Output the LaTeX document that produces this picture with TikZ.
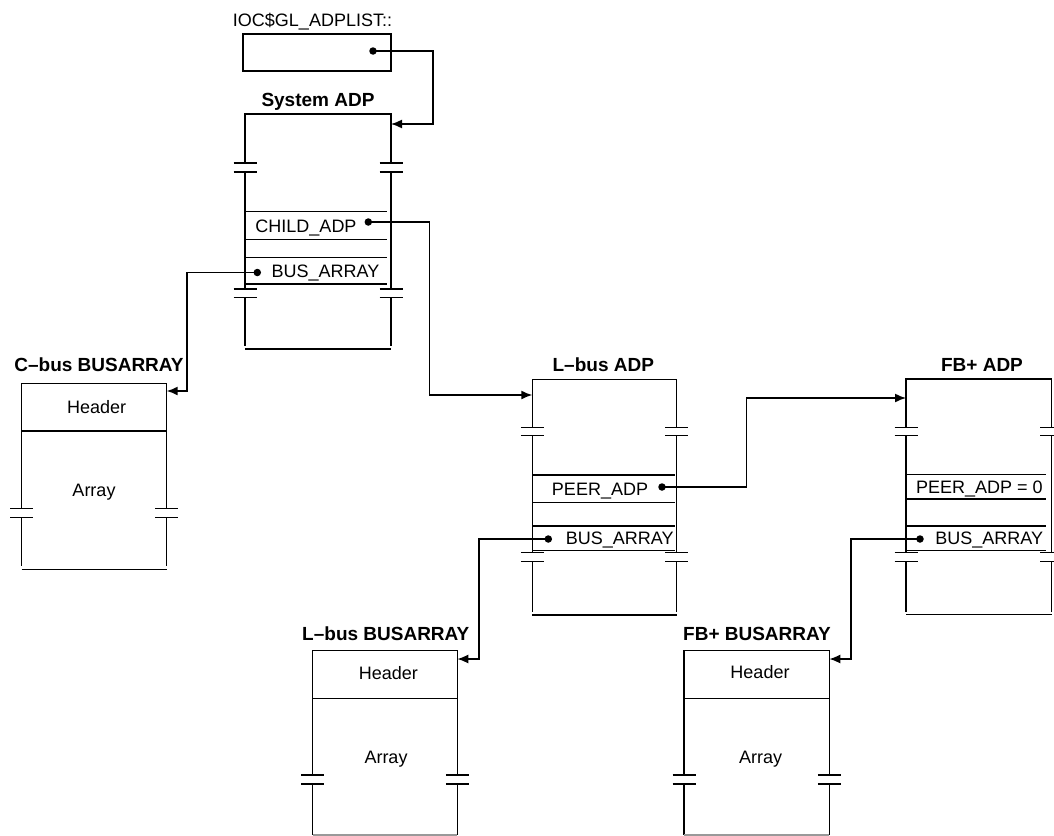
\documentclass[tikz,border=0pt]{standalone}
\usepackage{fontspec}
\setmainfont{Liberation Sans}
\usetikzlibrary{arrows.meta}

\begin{document}
\begin{tikzpicture}%
        [x=1pt, y=-1pt,
        edge/.style={color=black, line width=1.5pt},
        ptr/.style={color=black, line width=1.5pt, -{Latex[length=11pt,width=9pt]}},
        dot/.style={circle, fill=black, inner sep=0pt, minimum size=7.5pt},
        txt/.style={font=\fontsize{18}{21}\selectfont, inner sep=0pt, anchor=base},
        boxtitle/.style={font=\fontsize{19}{22}\selectfont\bfseries, inner sep=0pt, anchor=base}]

    \useasboundingbox (0,0) rectangle (1054,835);

    %% List head
    \node[txt] (ioc title) at (312.5,26) {IOC\$GL\_ADPLIST::};
    \draw[edge] (243,34) rectangle (391,71);
    \node[dot] (ioc ptr) at (373,51) {};
    \coordinate (sys in) at (391,124);
    %%
    %% System ADP
    %%
    \node[boxtitle] (sys title) at (318,106.6) {System ADP};
    \draw[edge] (245,163) -- (245,114) -- (391,114) -- (391,163);
    \draw[edge] (245,172) -- (245,289) (391,172) -- (391,289);
    \draw[edge] (245,297.5) -- (245,346) (391,297.5) -- (391,346);
    \draw[edge] (245,349) -- (391,349);
    \foreach \x in {245,391} \foreach \y in {163,172,289,297.5}
        \draw[edge] (\x-11.5,\y) -- (\x+11.5,\y);
    \foreach \y in {211.5,239.5,257.5,284}
        \draw[edge] (245,\y) -- (387,\y);
    \node[txt] (sys child txt) at (306,232.3) {CHILD\_ADP};
    \node[dot] (sys child) at (368.3,222) {};
    \node[txt] (sys bus txt) at (325.5,277.3) {BUS\_ARRAY};
    \node[dot] (sys bus) at (257.3,272.5) {};
    %%
    %% C-bus BUSARRAY
    %%
    \node[boxtitle] (cbus title) at (99,371.6) {C\textendash bus BUSARRAY};
    \draw[edge] (21.7,508.3) -- (21.7,383.3) -- (166.7,383.3) -- (166.7,508.3);
    \draw[edge] (21.7,517.7) -- (21.7,566) (166.7,517.7) -- (166.7,566);
    \draw[edge] (21.7,569.3) -- (166.7,569.3);
    \draw[edge] (21.7,431) -- (166.7,431);
    \foreach \x in {21.7,166.7} \foreach \y in {508.3,517.7}
        \draw[edge] (\x-11.5,\y) -- (\x+11.5,\y);
    \node[txt] (cbus head) at (96.7,413) {Header};
    \node[txt] (cbus arr) at (94,496.5) {Array};
    \coordinate (cbus in) at (166.7,391);
    %%
    %% L-bus ADP
    %%
    \node[boxtitle] (lbus title) at (603.3,371.6) {L\textendash bus ADP};
    \draw[edge] (532.3,427.3) -- (532.3,379.3) -- (676.7,379.3) -- (676.7,427.3);
    \draw[edge] (532.3,435.7) -- (532.3,552.7) (676.7,435.7) -- (676.7,552.7);
    \draw[edge] (532.3,561.7) -- (532.3,612) (676.7,561.7) -- (676.7,612);
    \draw[edge] (532.3,615) -- (676.7,615);
    \foreach \x in {532.3,676.7} \foreach \y in {427.3,435.7,552.7,561.7}
        \draw[edge] (\x-11.5,\y) -- (\x+11.5,\y);
    \foreach \y in {475,502.3,526,550.7}
        \draw[edge] (532.3,\y) -- (675,\y);
    \node[txt] (lbus peer txt) at (600,495.3) {PEER\_ADP};
    \node[dot] (lbus peer) at (662,487) {};
    \node[txt] (lbus bus txt) at (619.7,544) {BUS\_ARRAY};
    \node[dot] (lbus bus) at (548.3,539) {};
    \coordinate (lbus in) at (532.3,395);
    %%
    %% FB+ ADP
    %%
    \node[boxtitle] (fb title) at (982,371.6) {FB+ ADP};
    \draw[edge] (906,427.3) -- (906,379) -- (1051.7,379) -- (1051.7,427.3);
    \draw[edge] (906,435.7) -- (906,552.7) (1051.7,435.7) -- (1051.7,552.7);
    \draw[edge] (906,561.7) -- (906,611.5) (1051.7,561.7) -- (1051.7,611.5);
    \draw[edge] (906,614.5) -- (1051.7,614.5);
    \foreach \x in {906,1051.7} \foreach \y in {427.3,435.7,552.7,561.7}
        \draw[edge] (\x-11.5,\y) -- (\x+11.5,\y);
    \foreach \y in {474.3,499,526,550.7}
        \draw[edge] (906,\y) -- (1046,\y);
    \node[txt] (fb peer txt) at (979.3,493) {PEER\_ADP = 0};
    \node[txt] (fb bus txt) at (989.3,544.3) {BUS\_ARRAY};
    \node[dot] (fb bus) at (920,539) {};
    \coordinate (fb in) at (906,398);
    %%
    %% L-bus BUSARRAY
    %%
    \node[boxtitle] (lbusarr title) at (385.8,640.6) {L\textendash bus BUSARRAY};
    \draw[edge] (312.7,775) -- (312.7,650.7) -- (457.3,650.7) -- (457.3,775);
    \draw[edge] (312.7,784) -- (312.7,835) (457.3,784) -- (457.3,835);
    \draw[edge, black!40] (312.7,835) -- (457.3,835);
    \draw[edge] (312.7,698.3) -- (457.3,698.3);
    \foreach \x in {312.7,457.3} \foreach \y in {775,784}
        \draw[edge] (\x-11.5,\y) -- (\x+11.5,\y);
    \node[txt] (lbusarr head) at (388.3,679.6) {Header};
    \node[txt] (lbusarr arr) at (386,763.6) {Array};
    \coordinate (lbusarr in) at (457.3,659);
    %%
    %% FB+ BUSARRAY
    %%
    \node[boxtitle] (fbarr title) at (757,640.6) {FB+ BUSARRAY};
    \draw[edge] (684,775) -- (684,650.7) -- (829.3,650.7) -- (829.3,775);
    \draw[edge] (684,784) -- (684,835) (829.3,784) -- (829.3,835);
    \draw[edge, black!40] (684,835) -- (829.3,835);
    \draw[edge] (684,698.3) -- (829.3,698.3);
    \foreach \x in {684,829.3} \foreach \y in {775,784}
        \draw[edge] (\x-11.5,\y) -- (\x+11.5,\y);
    \node[txt] (fbarr head) at (760,678.3) {Header};
    \node[txt] (fbarr arr) at (760.5,763.3) {Array};
    \coordinate (fbarr in) at (829.3,659);
    %%
    %% Pointers
    %%
    \draw[ptr] (ioc ptr.center) -- ++(60,0) |- (sys in);
    \draw[ptr] (sys child.center) -- ++(61,0) |- (lbus in);
    \draw[ptr] (sys bus.center) -- ++(-70.3,0) |- (cbus in);
    \draw[ptr] (lbus peer.center) -- ++(84.7,0) |- (fb in);
    \draw[ptr] (lbus bus.center) -- ++(-69.3,0) |- (lbusarr in);
    \draw[ptr] (fb bus.center) -- ++(-69,0) |- (fbarr in);
    %%
\end{tikzpicture}
\end{document}
